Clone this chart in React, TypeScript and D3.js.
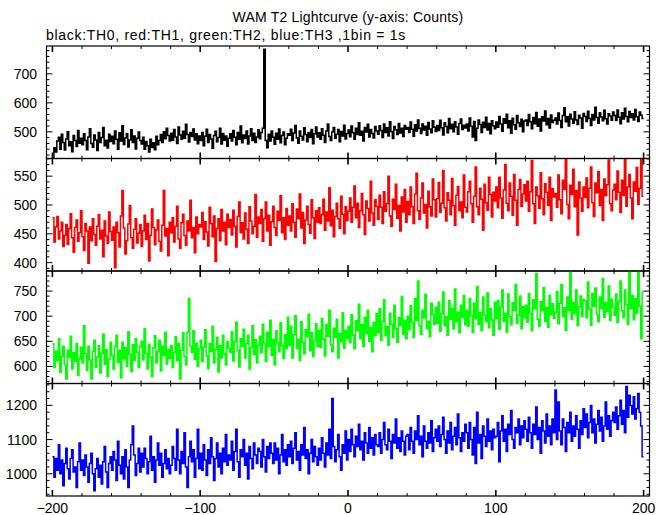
import React from "react";
import * as d3 from "d3";

const TITLE = "WAM T2 Lightcurve (y-axis: Counts)";
const SUBTITLE = "black:TH0, red:TH1, green:TH2, blue:TH3 ,1bin = 1s";
const TIME_START = -200;
const X_TICKS = [-200, -100, 0, 100, 200];

const TH0 = [
  412, 445, 430, 468, 481, 440, 492, 463, 437, 475, 500, 452, 466, 431, 487, 470, 449, 505, 461, 478,
  455, 493, 470, 438, 482, 511, 460, 447, 489, 472, 436, 498, 463, 480, 515, 452, 471, 444, 492, 467,
  485, 459, 503, 474, 440, 497, 468, 521, 456, 479, 493, 448, 472, 507, 463, 486, 441, 478, 499, 470,
  458, 481, 440, 467, 452, 430, 474, 446, 462, 438, 485, 455, 470, 491, 463, 500, 476, 512, 487, 468,
  495, 471, 508, 482, 460, 517, 489, 474, 502, 478, 526, 491, 465, 498, 484, 510, 472, 493, 459, 486,
  470, 498, 452, 485, 509, 463, 491, 475, 443, 487, 502, 466, 480, 512, 458, 494, 471, 486, 450, 478,
  493, 468, 505, 481, 455, 498, 474, 520, 462, 489, 477, 503, 458, 486, 511, 470, 495, 463, 482, 507,
  476, 498, 512, 785, 470, 445, 492, 468, 503, 481, 457, 495, 474, 510, 462, 487, 499, 455, 478, 493,
  488, 509, 470, 496, 522, 479, 461, 503, 485, 472, 514, 491, 466, 498, 480, 508, 459, 493, 517, 482,
  497, 474, 511, 488, 463, 503, 527, 484, 470, 499, 515, 478, 492, 508, 466, 501, 486, 523, 475, 494,
  506, 483, 520, 497, 474, 512, 491, 531, 488, 502, 468, 515, 499, 526, 482, 508, 494, 479, 518, 503,
  492, 521, 505, 480, 527, 498, 514, 486, 535, 501, 477, 518, 507, 491, 529, 496, 512, 484, 522, 509,
  515, 498, 534, 509, 485, 524, 503, 541, 512, 494, 527, 506, 519, 488, 532, 510, 497, 538, 516, 501,
  522, 505, 540, 514, 489, 531, 518, 497, 546, 511, 526, 500, 535, 517, 492, 529, 544, 508, 523, 513,
  527, 503, 548, 519, 482, 536, 470, 512, 541, 525, 498, 533, 515, 550, 506, 529, 493, 538, 521, 511,
  534, 516, 553, 527, 502, 545, 530, 561, 514, 538, 495, 547, 524, 509, 556, 531, 518, 543, 500, 537,
  541, 522, 560, 535, 511, 549, 528, 567, 519, 544, 503, 552, 537, 572, 524, 546, 513, 558, 532, 540,
  548, 527, 565, 539, 515, 556, 583, 535, 552, 520, 561, 544, 530, 569, 541, 525, 557, 548, 512, 563,
  553, 536, 571, 546, 522, 560, 541, 585, 549, 530, 566, 551, 538, 574, 545, 527, 562, 555, 540, 568,
  556, 539, 575, 550, 528, 566, 544, 581, 553, 535, 570, 549, 562, 541, 577, 552, 536, 568, 557, 546,
];

const TH1 = [
  478, 436, 462, 480, 441, 455, 470, 428, 447, 466, 432, 459, 485, 443, 418, 461, 474, 437, 452, 490,
  445, 421, 468, 455, 399, 462, 438, 476, 449, 430, 463, 483, 441, 456, 410, 472, 446, 433, 488, 454,
  439, 462, 391, 470, 452, 427, 481, 525, 460, 415, 438, 467, 499, 443, 425, 458, 476, 434, 451, 466,
  428, 455, 482, 440, 468, 403, 447, 493, 461, 431, 457, 474, 437, 420, 465, 525, 446, 459, 412, 470,
  452, 478, 436, 463, 498, 441, 425, 469, 484, 447, 430, 472, 455, 508, 443, 461, 417, 479, 450, 466,
  462, 487, 440, 471, 453, 429, 496, 468, 445, 481, 402, 459, 476, 438, 492, 455, 470, 431, 484, 461,
  475, 448, 491, 463, 427, 480, 505, 452, 469, 441, 486, 458, 433, 497, 472, 450, 463, 518, 444, 479,
  468, 492, 437, 476, 505, 455, 482, 430, 471, 498, 461, 447, 489, 473, 516, 452, 478, 440, 494, 465,
  481, 455, 502, 470, 444, 493, 476, 519, 460, 487, 433, 474, 498, 466, 451, 509, 478, 442, 490, 470,
  495, 468, 483, 510, 456, 488, 472, 530, 464, 491, 445, 480, 503, 476, 459, 515, 484, 450, 497, 473,
  489, 512, 470, 496, 533, 478, 503, 461, 490, 520, 483, 449, 507, 494, 472, 541, 486, 465, 509, 498,
  475, 517, 496, 468, 523, 489, 502, 550, 481, 463, 510, 492, 536, 477, 499, 455, 514, 488, 527, 470,
  506, 483, 531, 497, 468, 519, 555, 490, 475, 512, 538, 486, 501, 460, 524, 497, 481, 545, 509, 479,
  511, 539, 487, 503, 560, 495, 472, 521, 508, 483, 546, 499, 465, 517, 532, 490, 505, 478, 552, 496,
  488, 523, 541, 502, 470, 515, 566, 497, 483, 529, 510, 456, 536, 504, 491, 548, 518, 479, 522, 507,
  531, 495, 548, 512, 477, 526, 570, 503, 490, 538, 515, 482, 553, 508, 465, 527, 544, 498, 519, 535,
  507, 541, 489, 523, 577, 502, 468, 531, 516, 494, 556, 511, 483, 537, 522, 499, 548, 473, 528, 514,
  520, 496, 552, 509, 485, 543, 527, 580, 501, 476, 534, 518, 562, 497, 525, 448, 540, 512, 489, 531,
  513, 547, 495, 529, 566, 504, 480, 538, 521, 558, 499, 527, 473, 545, 516, 535, 578, 502, 490, 526,
  536, 509, 559, 522, 487, 543, 517, 580, 498, 531, 553, 512, 476, 540, 524, 565, 501, 529, 580, 515,
];

const TH2 = [
  645, 598, 630, 612, 655, 588, 620, 640, 603, 575, 632, 618, 660, 595, 627, 610, 645, 582, 615, 638,
  607, 681, 625, 592, 640, 613, 575, 630, 652, 598, 619, 641, 587, 626, 664, 604, 633, 580, 615, 648,
  622, 595, 640, 662, 608, 631, 577, 648, 615, 637, 600, 669, 624, 590, 643, 612, 655, 628, 598, 639,
  650, 613, 675, 626, 595, 644, 618, 580, 637, 661, 607, 629, 652, 591, 640, 622, 668, 605, 633, 616,
  641, 598, 627, 659, 612, 645, 575, 632, 667, 620, 603, 668, 735, 640, 628, 671, 614, 646, 600, 635,
  652, 610, 638, 673, 621, 596, 645, 629, 680, 607, 634, 658, 589, 641, 617, 662, 625, 603, 649, 636,
  628, 669, 611, 650, 688, 632, 599, 655, 640, 674, 617, 646, 662, 595, 638, 681, 624, 653, 607, 642,
  660, 627, 684, 645, 610, 668, 639, 692, 622, 654, 603, 671, 648, 629, 687, 641, 616, 663, 635, 698,
  642, 680, 617, 663, 701, 636, 654, 612, 689, 648, 625, 673, 659, 704, 631, 667, 620, 651, 685, 640,
  672, 638, 695, 654, 621, 683, 660, 712, 643, 629, 676, 658, 694, 617, 665, 649, 707, 636, 671, 655,
  680, 647, 703, 662, 635, 691, 671, 724, 655, 683, 640, 698, 666, 712, 650, 677, 629, 688, 661, 705,
  668, 715, 652, 690, 733, 661, 679, 642, 706, 684, 658, 722, 675, 648, 697, 681, 739, 664, 692, 655,
  700, 673, 721, 688, 658, 735, 692, 770, 681, 664, 712, 697, 743, 675, 690, 659, 726, 703, 684, 718,
  686, 728, 670, 705, 748, 681, 699, 662, 731, 694, 716, 675, 754, 689, 708, 667, 722, 698, 741, 683,
  712, 680, 735, 701, 668, 726, 695, 759, 684, 707, 671, 738, 703, 689, 746, 677, 715, 693, 662, 728,
  695, 731, 674, 718, 752, 690, 706, 668, 744, 699, 683, 727, 711, 763, 686, 702, 740, 675, 719, 697,
  722, 688, 745, 706, 671, 733, 715, 785, 694, 680, 729, 711, 757, 690, 718, 678, 741, 703, 725, 696,
  708, 749, 685, 726, 763, 699, 717, 672, 738, 712, 790, 694, 728, 705, 752, 681, 719, 740, 700, 733,
  731, 697, 768, 714, 682, 745, 720, 756, 703, 689, 738, 716, 775, 698, 727, 709, 760, 692, 734, 718,
  702, 744, 688, 729, 770, 711, 697, 752, 723, 684, 790, 716, 741, 693, 735, 706, 790, 720, 655, 748,
];

const TH3 = [
  1050, 990, 1045, 1010, 1085, 1000, 1040, 965, 1030, 1075, 1015, 985, 1045, 1070, 1005, 1020, 960, 1035, 1090, 1010,
  1040, 995, 1055, 1020, 975, 1030, 1060, 1000, 950, 1015, 1045, 990, 1025, 970, 1035, 1080, 1005, 960, 1030, 1050,
  1010, 1065, 1040, 980, 1095, 1025, 1000, 1050, 985, 1070, 1020, 960, 1040, 1085, 1140, 1055, 995, 1030, 1075, 1005,
  1060, 1020, 1075, 1045, 1000, 1035, 1110, 1010, 1050, 975, 1040, 1090, 1025, 1060, 990, 1030, 1070, 1015, 1045, 1000,
  1025, 1080, 1045, 1010, 1130, 1040, 1000, 1065, 1030, 1120, 1020, 960, 1050, 1095, 1035, 1070, 990, 1045, 1130, 1015,
  1060, 1010, 1085, 1040, 995, 1070, 1030, 1105, 1050, 980, 1045, 1090, 1020, 1060, 1000, 1075, 1035, 1115, 1025, 1055,
  1040, 1095, 1010, 1065, 1130, 1035, 990, 1070, 1050, 1100, 1025, 1060, 985, 1080, 1045, 1015, 1090, 1055, 1030, 1075,
  1065, 1020, 1100, 1050, 1005, 1080, 1045, 1090, 1060, 1030, 1090, 1040, 1075, 1000, 1055, 1115, 1035, 1070, 1025, 1085,
  1050, 1095, 1030, 1075, 1120, 1040, 1065, 1010, 1085, 1055, 1135, 1045, 1070, 1000, 1060, 1100, 1035, 1080, 1050, 1025,
  1075, 1040, 1105, 1060, 1020, 1090, 1055, 1130, 1045, 1220, 1080, 1035, 1070, 1115, 1050, 1010, 1085, 1060, 1125, 1040,
  1100, 1065, 1130, 1085, 1050, 1110, 1080, 1145, 1070, 1095, 1040, 1120, 1090, 1060, 1135, 1075, 1105, 1055, 1115, 1085,
  1080, 1120, 1060, 1100, 1150, 1085, 1070, 1130, 1095, 1045, 1115, 1090, 1160, 1075, 1105, 1065, 1125, 1095, 1055, 1110,
  1115, 1070, 1135, 1095, 1060, 1125, 1100, 1170, 1085, 1110, 1050, 1140, 1095, 1075, 1120, 1090, 1155, 1065, 1105, 1130,
  1095, 1140, 1080, 1115, 1165, 1100, 1060, 1125, 1090, 1150, 1070, 1110, 1135, 1085, 1175, 1105, 1065, 1120, 1095, 1145,
  1120, 1075, 1150, 1100, 1055, 1135, 1030, 1180, 1090, 1115, 1045, 1140, 1110, 1080, 1160, 1095, 1125, 1070, 1130, 1105,
  1110, 1150, 1035, 1125, 1170, 1095, 1130, 1065, 1145, 1115, 1185, 1100, 1075, 1135, 1120, 1160, 1085, 1140, 1105, 1155,
  1130, 1095, 1165, 1120, 1075, 1145, 1115, 1195, 1100, 1135, 1060, 1155, 1125, 1090, 1175, 1110, 1140, 1085, 1160, 1120,
  1245, 1100, 1210, 1125, 1085, 1160, 1135, 1065, 1150, 1120, 1180, 1095, 1140, 1110, 1170, 1130, 1075, 1155, 1115, 1190,
  1135, 1175, 1105, 1150, 1200, 1120, 1160, 1090, 1145, 1185, 1125, 1165, 1095, 1140, 1210, 1130, 1170, 1110, 1155, 1180,
  1150, 1195, 1130, 1170, 1215, 1145, 1185, 1120, 1255, 1165, 1230, 1200, 1175, 1225, 1160, 1190, 1235, 1180, 1140, 1050,
];

const SERIES = [TH0, TH1, TH2, TH3];
const COLORS = ["#000000", "#ff0000", "#00ff00", "#0000ff"];
const Y_RANGES: [number, number][] = [
  [408, 796],
  [385.5, 580.6],
  [566, 790],
  [935, 1264],
];
const Y_MAJOR = [100, 50, 50, 100];
const Y_MINOR = [20, 10, 10, 20];

const W = 669;
const H = 515;
const LEFT = 46.5;
const RIGHT = 649.5;
const TOP = 46;
const BOTTOM = 496;
const FONT = "'Liberation Sans', Arial, Helvetica, sans-serif";

export default function App() {
  const x = d3.scaleLinear().domain([-204, 204]).range([LEFT, RIGHT]);
  const ph = (BOTTOM - TOP) / 4;
  const minorX = d3.range(-200, 201, 20);

  const fmt = (v: number) => (v < 0 ? "\u2212" + Math.abs(v) : String(v));

  return (
    <svg
      width={W}
      height={H}
      style={{ position: "absolute", left: 0, top: 0, background: "#fff" }}
      fontFamily={FONT}
    >
      <defs>
        {SERIES.map((_, i) => (
          <clipPath id={`clip${i}`} key={i}>
            <rect x={LEFT} y={TOP + i * ph} width={RIGHT - LEFT} height={ph} />
          </clipPath>
        ))}
      </defs>
      <text x={(LEFT + RIGHT) / 2} y={22} textAnchor="middle" fontSize={14} letterSpacing={0.2}>
        {TITLE}
      </text>
      <text x={46} y={40} fontSize={14} letterSpacing={0.7}>
        {SUBTITLE}
      </text>
      {SERIES.map((data, i) => {
        const top = TOP + i * ph;
        const bot = top + ph;
        const y = d3.scaleLinear().domain(Y_RANGES[i]).range([bot, top]);
        const pts: [number, number][] = data.map((v, k) => [TIME_START + k, v]);
        pts.push([TIME_START + data.length, data[data.length - 1]]);
        const line = d3
          .line<[number, number]>()
          .x((d) => x(d[0]))
          .y((d) => y(d[1]))
          .curve(d3.curveStepAfter);
        const [y0, y1] = Y_RANGES[i];
        const minorY = d3.range(Math.ceil(y0 / Y_MINOR[i]) * Y_MINOR[i], y1, Y_MINOR[i]);
        return (
          <g key={i}>
            <path
              d={line(pts) || ""}
              fill="none"
              stroke={COLORS[i]}
              strokeWidth={1.5}
              clipPath={`url(#clip${i})`}
            />
            <rect x={LEFT} y={top} width={RIGHT - LEFT} height={ph} fill="none" stroke="#000" strokeWidth={1.2} />
            {minorX.map((t) => {
              const major = t % 100 === 0;
              const len = major ? 6 : 3;
              const sw = major ? 1.6 : 1;
              return (
                <g key={t}>
                  <line x1={x(t)} x2={x(t)} y1={top} y2={top + len} stroke="#000" strokeWidth={sw} />
                  <line x1={x(t)} x2={x(t)} y1={bot} y2={bot - len} stroke="#000" strokeWidth={sw} />
                </g>
              );
            })}
            {minorY.map((v) => {
              const major = Math.abs(v % Y_MAJOR[i]) < 1e-6;
              const len = major ? 6 : 3;
              return (
                <g key={v}>
                  <line x1={LEFT} x2={LEFT + len} y1={y(v)} y2={y(v)} stroke="#000" strokeWidth={1} />
                  <line x1={RIGHT} x2={RIGHT - len} y1={y(v)} y2={y(v)} stroke="#000" strokeWidth={1} />
                  {major && (
                    <text x={37} y={y(v) + 5} textAnchor="end" fontSize={14}>
                      {v}
                    </text>
                  )}
                </g>
              );
            })}
          </g>
        );
      })}
      {X_TICKS.map((t) => (
        <text key={t} x={x(t)} y={513} textAnchor="middle" fontSize={14}>
          {fmt(t)}
        </text>
      ))}
    </svg>
  );
}
